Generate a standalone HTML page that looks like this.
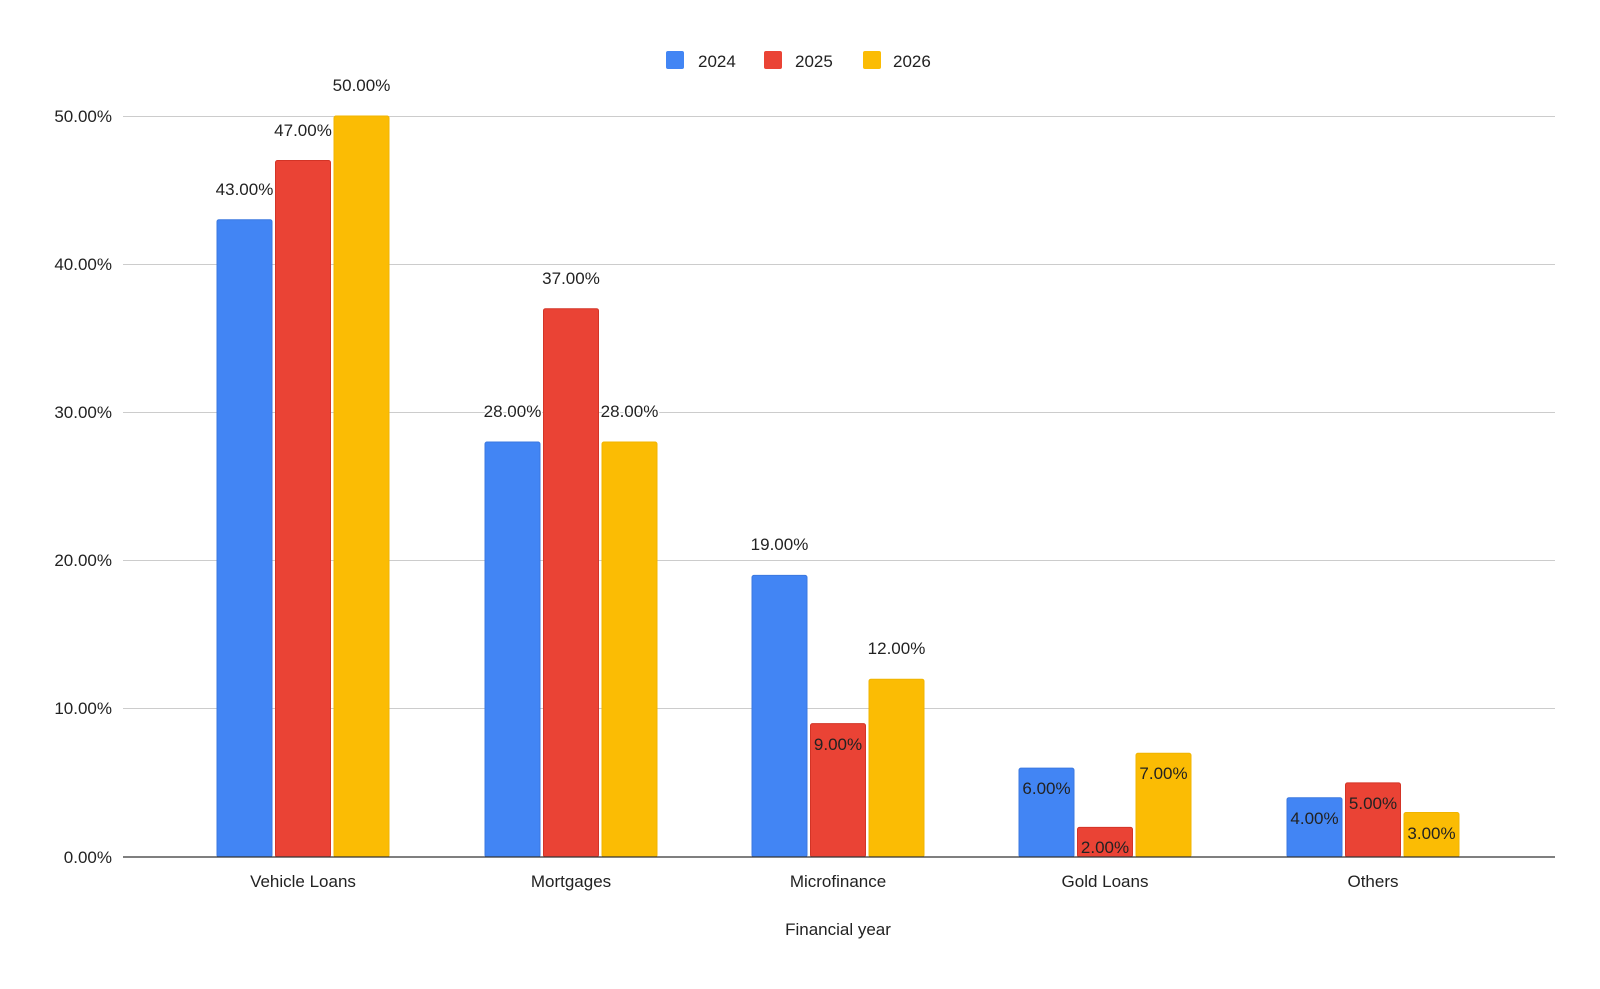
<!DOCTYPE html>
<html><head><meta charset="utf-8"><style>
html,body{margin:0;padding:0;background:#fff}
svg{display:block;font-family:"Liberation Sans",Arial,sans-serif}
.o{stroke:#fff;stroke-width:3px;paint-order:stroke}
</style></head><body>
<svg width="1600" height="989" viewBox="0 0 1600 989" xmlns="http://www.w3.org/2000/svg">
<rect width="1600" height="989" fill="#fff"/>
<g stroke="#cccccc" stroke-width="1">
<line x1="123" x2="1555" y1="116.5" y2="116.5"/>
<line x1="123" x2="1555" y1="264.5" y2="264.5"/>
<line x1="123" x2="1555" y1="412.5" y2="412.5"/>
<line x1="123" x2="1555" y1="560.5" y2="560.5"/>
<line x1="123" x2="1555" y1="708.5" y2="708.5"/>
</g>
<g font-size="17" fill="#222" text-anchor="end">
<text x="112" y="122">50.00%</text>
<text x="112" y="270">40.00%</text>
<text x="112" y="418">30.00%</text>
<text x="112" y="566">20.00%</text>
<text x="112" y="714">10.00%</text>
<text x="112" y="863">0.00%</text>
</g>
<g stroke-width="1">
<g fill="#4285F4" stroke="#3b78e0">
<rect x="217" y="219.7" width="55" height="637.3" rx="2"/>
<rect x="485" y="442" width="55" height="415" rx="2"/>
<rect x="752" y="575.4" width="55" height="281.6" rx="2"/>
<rect x="1019" y="768.1" width="55" height="88.9" rx="2"/>
<rect x="1287" y="797.7" width="55" height="59.3" rx="2"/>
</g>
<g fill="#EA4335" stroke="#d33426">
<rect x="275.5" y="160.5" width="55" height="696.5" rx="2"/>
<rect x="543.5" y="308.7" width="55" height="548.3" rx="2"/>
<rect x="810.5" y="723.6" width="55" height="133.4" rx="2"/>
<rect x="1077.5" y="827.4" width="55" height="29.6" rx="2"/>
<rect x="1345.5" y="782.9" width="55" height="74.1" rx="2"/>
</g>
<g fill="#FBBC04" stroke="#f0b400">
<rect x="334" y="116" width="55" height="741" rx="2"/>
<rect x="602" y="442" width="55" height="415" rx="2"/>
<rect x="869" y="679.2" width="55" height="177.8" rx="2"/>
<rect x="1136" y="753.3" width="55" height="103.7" rx="2"/>
<rect x="1404" y="812.5" width="55" height="44.5" rx="2"/>
</g>
</g>
<line x1="123" x2="1555" y1="857" y2="857" stroke="#333" stroke-width="1.3"/>
<g font-size="17" fill="#222" text-anchor="middle">
<text x="303" y="887">Vehicle Loans</text>
<text x="571" y="887">Mortgages</text>
<text x="838" y="887">Microfinance</text>
<text x="1105" y="887">Gold Loans</text>
<text x="1373" y="887">Others</text>
<text x="838" y="935">Financial year</text>
</g>
<g font-size="17" fill="#222">
<rect x="666" y="51" width="18" height="18" rx="2" fill="#4285F4"/><text x="698" y="67">2024</text>
<rect x="764" y="51" width="18" height="18" rx="2" fill="#EA4335"/><text x="795" y="67">2025</text>
<rect x="863" y="51" width="18" height="18" rx="2" fill="#FBBC04"/><text x="893" y="67">2026</text>
</g>
<g font-size="17" fill="#222" text-anchor="middle">
<text class="o" x="244.5" y="195">43.00%</text>
<text class="o" x="303" y="136">47.00%</text>
<text class="o" x="361.5" y="91">50.00%</text>
<text class="o" x="512.5" y="417">28.00%</text>
<text class="o" x="571" y="284">37.00%</text>
<text class="o" x="629.5" y="417">28.00%</text>
<text class="o" x="779.5" y="550">19.00%</text>
<text x="838" y="750">9.00%</text>
<text class="o" x="896.5" y="654">12.00%</text>
<text x="1046.5" y="794">6.00%</text>
<text x="1105" y="853">2.00%</text>
<text x="1163.5" y="779">7.00%</text>
<text x="1314.5" y="824">4.00%</text>
<text x="1373" y="809">5.00%</text>
<text x="1431.5" y="839">3.00%</text>
</g>
</svg>
</body></html>
